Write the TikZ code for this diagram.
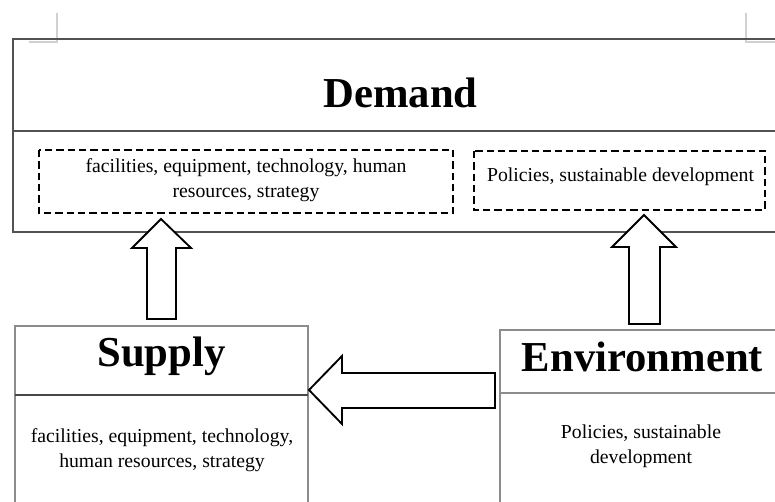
\documentclass[tikz,border=0pt]{standalone}
\usepackage{fontspec}
\setmainfont{Liberation Serif}
\begin{document}
\begin{tikzpicture}[x=0.75pt,y=-0.75pt,
  cropmark/.style={draw=black!18, line width=0.8pt},
  panel/.style={draw=black!45, line width=0.8pt},
  darkpanel/.style={draw=black!68, line width=0.8pt},
  dashbox/.style={draw=black, line width=1.6pt, dash pattern=on 5.5pt off 3pt},
  blockarrow/.style={draw=black, fill=white, line width=1.4pt, line join=miter},
  heading/.style={font=\fontsize{32}{36}\selectfont\bfseries, anchor=base, inner sep=0pt},
  body/.style={font=\fontsize{14.8}{18.75}\selectfont, align=center, inner sep=0pt}]
\useasboundingbox (0,0) rectangle (775,502);
\clip (0,0) rectangle (775,502);

% page crop marks
\draw[cropmark] (57,13) -- (57,42) -- (29,42);
\draw[cropmark] (746,13) -- (746,42) -- (780,42);

% Demand panel
\draw[darkpanel] (13,39) rectangle (790,232);
\draw[darkpanel] (13,131) -- (790,131);
\node[heading] (demand) at (400.5,108) {Demand};
\draw[dashbox] (39,150) rectangle (453,213);
\node[body] (dneeds) at (246,180) {facilities, equipment, technology, human\\resources, strategy};
\draw[dashbox] (474,151) rectangle (765,210);
\node[body, anchor=base] (dpolicy) at (620.5,182) {Policies, sustainable development};

% Supply panel
\draw[panel] (15,326) rectangle (308,520);
\draw[draw=black!72, line width=0.8pt] (15,395) -- (308,395);
\node[heading] (supply) at (161.5,367) {Supply};
\node[body] (sneeds) at (162,450) {facilities, equipment, technology,\\human resources, strategy};

% Environment panel
\draw[panel] (500,330) rectangle (790,520);
\draw[panel] (500,393) -- (790,393);
\node[heading] (environment) at (642.5,372) {Environment};
\node[body] (epolicy) at (641,446) {Policies, sustainable\\development};

% block arrows between panels
\draw[blockarrow] (161,219) -- (191,248) -- (176,248) -- (176,319)
  -- (147,319) -- (147,248) -- (132,248) -- cycle;
\draw[blockarrow] (644,215) -- (676,247) -- (660,247) -- (660,324)
  -- (629,324) -- (629,247) -- (612,247) -- cycle;
\draw[blockarrow] (309,390) -- (342,356) -- (342,373) -- (495,373)
  -- (495,408) -- (342,408) -- (342,424) -- cycle;
\end{tikzpicture}
\end{document}
